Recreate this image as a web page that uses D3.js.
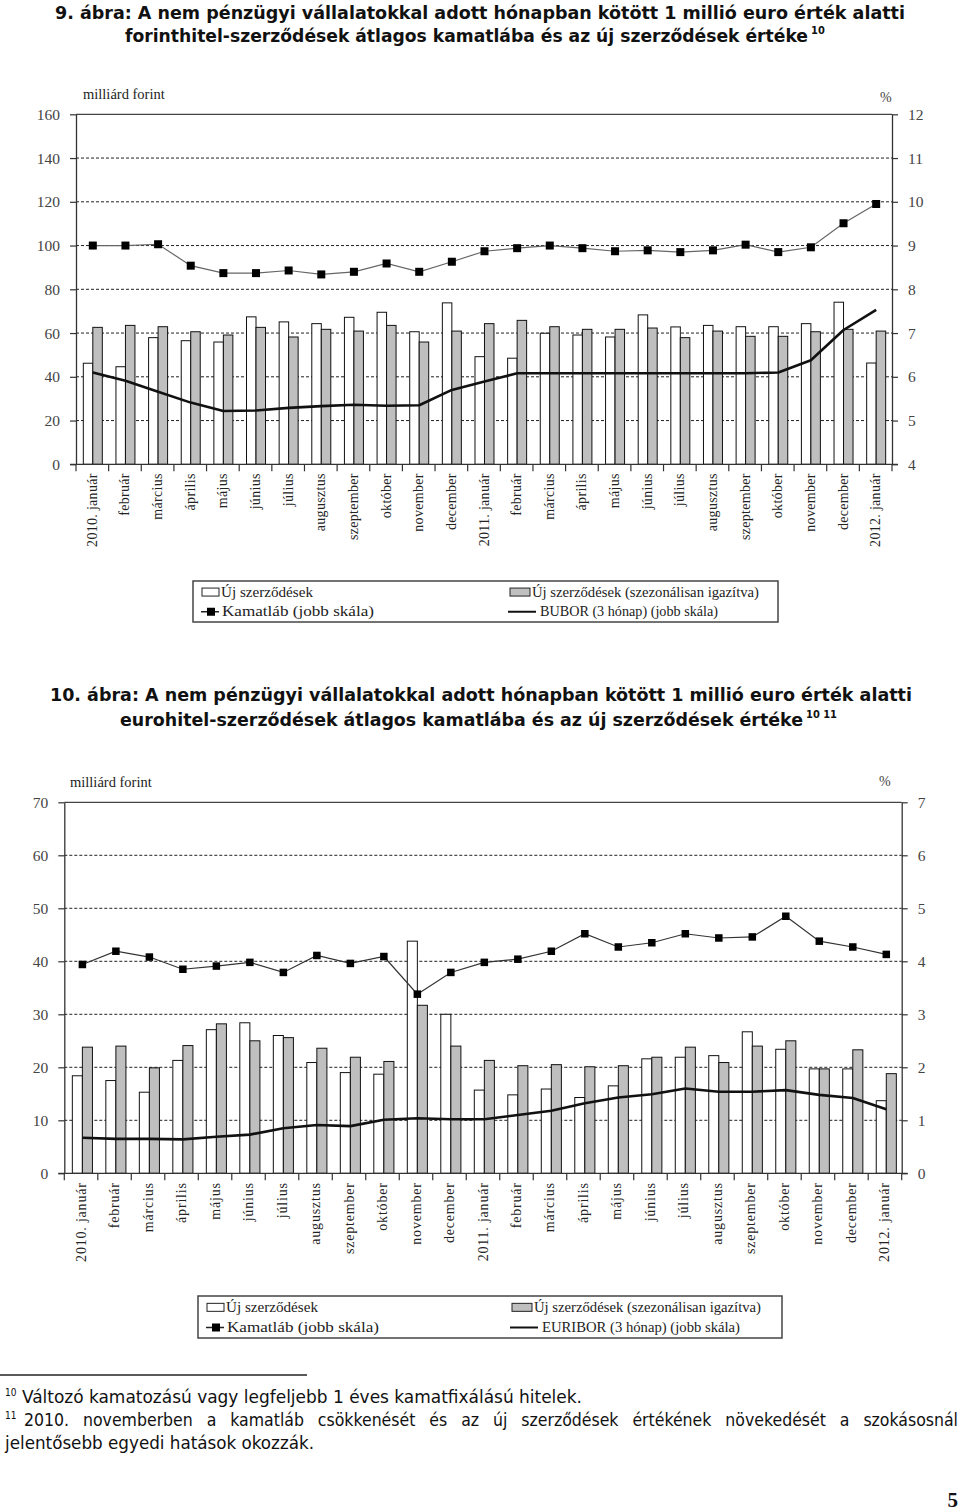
<!DOCTYPE html>
<html><head><meta charset="utf-8">
<script src="https://cdn.jsdelivr.net/npm/d3@7"></script>
<style>body{margin:0;background:#fff}svg{display:block}</style>
</head><body>
<svg id="s" width="960" height="1511"></svg>
<script>
const months = ["2010. január","február","március","április","május","június","július","augusztus","szeptember","október","november","december","2011. január","február ","március ","április ","május ","június ","július ","augusztus ","szeptember ","október ","november ","december ","2012. január"];

// Chart 1 (forint)
const c1New   = [46.2,44.6,57.9,56.5,55.9,67.4,65.1,64.3,67.2,69.5,60.6,73.8,49.2,48.5,59.9,59.1,58.2,68.3,62.8,63.5,62.9,62.9,64.3,74.1,46.3];
const c1Adj   = [62.6,63.5,62.9,60.6,59.1,62.6,58.2,61.7,60.9,63.5,55.9,60.9,64.3,65.8,62.9,61.7,61.7,62.3,57.9,60.9,58.5,58.5,60.6,61.7,60.9];
const c1Rate  = [9.0,9.0,9.03,8.54,8.37,8.37,8.43,8.34,8.40,8.59,8.40,8.63,8.87,8.94,9.0,8.94,8.87,8.89,8.85,8.89,9.02,8.85,8.96,9.51,9.95];
const c1Bubor = [6.10,5.91,5.66,5.41,5.22,5.23,5.29,5.33,5.36,5.34,5.35,5.70,5.89,6.08,6.08,6.08,6.08,6.08,6.08,6.08,6.08,6.10,6.38,7.07,7.53];
const c1LeftTicks  = [0,20,40,60,80,100,120,140,160];
const c1RightTicks = [4,5,6,7,8,9,10,11,12];

// Chart 2 (euro)
const c2New     = [18.4,17.5,15.3,21.3,27.1,28.4,26.0,20.9,19.0,18.7,43.8,30.0,15.7,14.8,15.9,14.3,16.5,21.6,21.9,22.2,26.7,23.4,19.7,19.7,13.7];
const c2Adj     = [23.8,24.0,19.9,24.1,28.2,25.0,25.6,23.6,21.9,21.1,31.7,24.0,21.3,20.3,20.5,20.1,20.3,21.9,23.8,20.9,24.0,25.0,19.7,23.3,18.8];
const c2Rate    = [3.94,4.19,4.08,3.85,3.91,3.98,3.79,4.11,3.96,4.09,3.38,3.79,3.98,4.04,4.19,4.52,4.27,4.35,4.52,4.44,4.46,4.85,4.38,4.27,4.13];
const c2Euribor = [0.67,0.65,0.65,0.64,0.69,0.73,0.85,0.91,0.89,1.01,1.04,1.02,1.02,1.10,1.18,1.32,1.43,1.49,1.60,1.54,1.54,1.57,1.48,1.42,1.21];
const c2LeftTicks  = [0,10,20,30,40,50,60,70];
const c2RightTicks = [0,1,2,3,4,5,6,7];

const svg = d3.select("#s");
svg.append("rect").attr("width",960).attr("height",1511).attr("fill","#fff");
const SANS = "'DejaVu Sans Condensed','DejaVu Sans',sans-serif";
const SERIF = "'Liberation Serif','DejaVu Serif',serif";

function fitText(sel, w){ sel.attr("textLength", w).attr("lengthAdjust","spacingAndGlyphs"); return sel; }

function title(lines, y1, y2, sup, l1, l2){
  fitText(svg.append("text").attr("x",l1[0]).attr("y",y1).attr("font-family",SANS).attr("font-weight","bold")
    .attr("font-size",18).attr("fill","#111").text(lines[0]), l1[1]-l1[0]);
  fitText(svg.append("text").attr("x",l2[0]).attr("y",y2).attr("font-family",SANS).attr("font-weight","bold")
    .attr("font-size",18).attr("fill","#111").text(lines[1]), l2[1]-l2[0]);
  svg.append("text").attr("x",l2[1]+3).attr("y",y2-8).attr("font-family",SANS).attr("font-weight","bold")
    .attr("font-size",11).attr("fill","#111").text(sup);
}

title(["9. ábra: A nem pénzügyi vállalatokkal adott hónapban kötött 1 millió euro érték alatti",
       "forinthitel-szerződések átlagos kamatlába és az új szerződések értéke"], 19, 42, "10", [55,905],[125,808]);
title(["10. ábra: A nem pénzügyi vállalatokkal adott hónapban kötött 1 millió euro érték alatti",
       "eurohitel-szerződések átlagos kamatlába és az új szerződések értéke"], 701, 726, "10 11", [50,912],[120,803]);

function chart(cfg){
  const g = svg.append("g");
  const x = d3.scaleBand().domain(months).range([cfg.x0,cfg.x1]).paddingInner(0).paddingOuter(0);
  const bw = x.bandwidth();
  const inner = d3.scaleBand().domain(["new","adj"]).range([bw*cfg.inner[0], bw*cfg.inner[1]]);
  const yL = d3.scaleLinear().domain(cfg.lDomain).range([cfg.yBot,cfg.yTop]);
  const yR = d3.scaleLinear().domain(cfg.rDomain).range([cfg.yBot,cfg.yTop]);
  const cx = d => x(d) + inner("adj");

  g.selectAll(".grid").data(cfg.lTicks.slice(1,-1)).join("line")
    .attr("x1",cfg.x0).attr("x2",cfg.x1).attr("y1",d=>yL(d)).attr("y2",d=>yL(d))
    .attr("stroke","#222").attr("stroke-width",1).attr("stroke-dasharray","3,2");
  g.append("line").attr("x1",cfg.x0).attr("x2",cfg.x1).attr("y1",yL(cfg.lDomain[1])).attr("y2",yL(cfg.lDomain[1]))
    .attr("stroke","#444").attr("stroke-width",1.2);

  g.selectAll(".bn").data(cfg.newV).join("rect")
    .attr("x",(d,i)=>x(months[i])+inner("new")).attr("width",inner.bandwidth())
    .attr("y",d=>yL(d)).attr("height",d=>cfg.yBot-yL(d))
    .attr("fill","#fff").attr("stroke","#111").attr("stroke-width",1);
  g.selectAll(".ba").data(cfg.adjV).join("rect")
    .attr("x",(d,i)=>x(months[i])+inner("adj")).attr("width",inner.bandwidth())
    .attr("y",d=>yL(d)).attr("height",d=>cfg.yBot-yL(d))
    .attr("fill","#bfbfbf").attr("stroke","#111").attr("stroke-width",1);

  g.append("path").datum(cfg.refV)
    .attr("d", d3.line().x((d,i)=>cx(months[i])).y(d=>yR(d)))
    .attr("fill","none").attr("stroke","#111").attr("stroke-width",2.6).attr("stroke-linejoin","round");
  g.append("path").datum(cfg.rateV)
    .attr("d", d3.line().x((d,i)=>cx(months[i])).y(d=>yR(d)))
    .attr("fill","none").attr("stroke",cfg.rateColor).attr("stroke-width",1.2);
  const ms = cfg.marker;
  g.selectAll(".mk").data(cfg.rateV).join("rect")
    .attr("x",(d,i)=>cx(months[i])-ms/2).attr("y",d=>yR(d)-ms/2).attr("width",ms).attr("height",ms)
    .attr("fill","#000");

  const al = g.append("g").attr("transform",`translate(${cfg.x0},0)`)
    .call(d3.axisLeft(yL).tickValues(cfg.lTicks).tickSize(6).tickSizeOuter(0).tickPadding(10).tickFormat(d3.format("d")));
  const ar = g.append("g").attr("transform",`translate(${cfg.x1},0)`)
    .call(d3.axisRight(yR).tickValues(cfg.rTicks).tickSize(6).tickSizeOuter(0).tickPadding(10).tickFormat(d3.format("d")));
  [al,ar].forEach(a=>{
    a.select(".domain").attr("stroke","#333").attr("stroke-width",1.3);
    a.selectAll(".tick line").attr("stroke","#333").attr("stroke-width",1.2);
    a.selectAll(".tick text").attr("font-family",SERIF).attr("font-size",15.5).attr("fill","#444");
  });
  g.append("line").attr("x1",cfg.x0-6).attr("x2",cfg.x1+6).attr("y1",cfg.yBot).attr("y2",cfg.yBot)
    .attr("stroke","#333").attr("stroke-width",1.3);
  const bounds = months.map(m=>x(m)).concat([cfg.x1]);
  g.selectAll(".xt").data(bounds).join("line")
    .attr("x1",d=>d).attr("x2",d=>d).attr("y1",cfg.yBot).attr("y2",cfg.yBot+7)
    .attr("stroke","#333").attr("stroke-width",1.2);
  g.selectAll(".xl").data(months).join("text")
    .attr("transform",d=>`translate(${x(d)+bw/2+4.5},${cfg.yBot+9}) rotate(-90)`)
    .attr("text-anchor","end").attr("font-family",SERIF).attr("font-size",14).attr("fill","#222")
    .attr("letter-spacing",cfg.ls)
    .text(d=>d.trim());

  g.append("text").attr("x",cfg.unitL[0]).attr("y",cfg.unitL[1]).attr("font-family",SERIF).attr("font-size",14.5)
    .attr("fill","#222").text("milliárd forint");
  g.append("text").attr("x",cfg.unitR[0]).attr("y",cfg.unitR[1]).attr("font-family",SERIF).attr("font-size",14)
    .attr("fill","#444").text("%");

  const L = cfg.legend;
  g.append("rect").attr("x",L.x).attr("y",L.y).attr("width",L.w).attr("height",L.h)
    .attr("fill","#fff").attr("stroke","#444").attr("stroke-width",1.5);
  const r1 = L.y + L.h*0.27, r2 = L.y + L.h*0.75;
  g.append("rect").attr("x",L.x+9).attr("y",r1-4).attr("width",17).attr("height",8).attr("fill","#fff").attr("stroke","#222");
  g.append("rect").attr("x",L.x+L.c2).attr("y",r1-4).attr("width",20).attr("height",8).attr("fill","#bfbfbf").attr("stroke","#222");
  g.append("line").attr("x1",L.x+8).attr("x2",L.x+26).attr("y1",r2).attr("y2",r2).attr("stroke","#222").attr("stroke-width",1.5);
  g.append("rect").attr("x",L.x+14).attr("y",r2-4).attr("width",8).attr("height",8).attr("fill","#000");
  g.append("line").attr("x1",L.x+L.c2-2).attr("x2",L.x+L.c2+26).attr("y1",r2).attr("y2",r2).attr("stroke","#111").attr("stroke-width",2);
  const lt = (tx,ty,s,w)=>fitText(g.append("text").attr("x",tx).attr("y",ty+4.5).attr("font-family",SERIF)
      .attr("font-size",14).attr("fill","#222").text(s), w);
  lt(L.x+28, r1, "Új szerződések", 92);
  lt(L.x+L.c2+22, r1, "Új szerződések (szezonálisan igazítva)", 227);
  lt(L.x+29, r2, "Kamatláb (jobb skála)", 152);
  lt(L.x+L.c2+30, r2, L.ref, L.refW);
}

chart({x0:76,x1:892,yTop:114.3,yBot:464.3,inner:[0.224,0.806],lDomain:[0,160],rDomain:[4,12],
  lTicks:c1LeftTicks,rTicks:c1RightTicks,newV:c1New,adjV:c1Adj,rateV:c1Rate,refV:c1Bubor,
  rateColor:"#666",marker:8,ls:0.3,unitL:[83,99],unitR:[880,102],
  legend:{x:193,y:581,w:585,h:41,c2:317,ref:"BUBOR (3 hónap) (jobb skála)",refW:178}});

chart({x0:64.3,x1:901.7,yTop:802.3,yBot:1173.3,inner:[0.24,0.84],lDomain:[0,70],rDomain:[0,7],
  lTicks:c2LeftTicks,rTicks:c2RightTicks,newV:c2New,adjV:c2Adj,rateV:c2Rate,refV:c2Euribor,
  rateColor:"#333",marker:7.5,ls:0.8,unitL:[70,787],unitR:[879,786],
  legend:{x:198,y:1296,w:584,h:42,c2:314,ref:"EURIBOR (3 hónap) (jobb skála)",refW:198}});

// footnotes
svg.append("line").attr("x1",0).attr("x2",307).attr("y1",1375).attr("y2",1375).attr("stroke","#222").attr("stroke-width",1.3);
const FN = 17.5;
const fn = (tx,ty,s,size,w)=>{ const t=svg.append("text").attr("x",tx).attr("y",ty).attr("font-family",SANS)
   .attr("font-size",size).attr("fill","#111").text(s); if(w) fitText(t,w); return t; };
fn(5,1396,"10",10);
fn(22,1403,"Változó kamatozású vagy legfeljebb 1 éves kamatfixálású hitelek.",FN,560);
fn(5,1419,"11",10);
const just = svg.append("text").attr("x",24).attr("y",1426).attr("font-family",SANS).attr("font-size",FN)
  .attr("fill","#111").text("2010. novemberben a kamatláb csökkenését és az új szerződések értékének növekedését a szokásosnál");
(function(){
  const target = 934, natural = just.node().getComputedTextLength();
  const spaces = just.text().split(" ").length - 1;
  const ws = Math.max(0, (target - natural) / spaces);
  just.attr("word-spacing", ws);
  const after = just.node().getComputedTextLength();
  if (Math.abs(after - target) > 4) fitText(just, target);
})();
fn(5,1449,"jelentősebb egyedi hatások okozzák.",FN,309);
svg.append("text").attr("x",958).attr("y",1507).attr("text-anchor","end").attr("font-family",SERIF)
  .attr("font-weight","bold").attr("font-size",21).attr("fill","#111").text("5");
</script>
</body></html>
